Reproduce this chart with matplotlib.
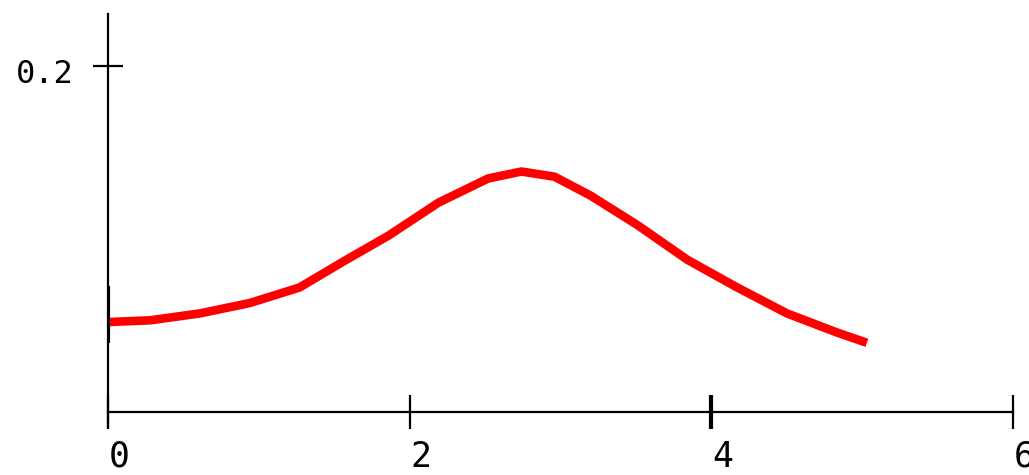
import matplotlib
matplotlib.use("Agg")
import matplotlib.pyplot as plt
from matplotlib.transforms import ScaledTranslation

# values
curve_x = [0, 0.28, 0.61, 0.94, 1.27, 1.56, 1.86, 2.19, 2.52, 2.74, 2.96, 3.2,
           3.51, 3.84, 4.17, 4.5, 4.83, 5.03]
curve_y = [0.052, 0.053, 0.057, 0.063, 0.072, 0.087, 0.102, 0.121, 0.135, 0.139,
           0.136, 0.125, 0.108, 0.088, 0.072, 0.057, 0.046, 0.040]
x_ticks = [0, 2, 4, 6]
x_tick_labels = ["0", "2", "4", "6"]
y_ticks = [0.2]
y_tick_labels = ["0.2"]
axis_mark = [0.040, 0.073]  # short thick stroke on the y axis at x=0

font = ["DejaVu Sans Mono", "DejaVu Sans"]

fig = plt.figure(figsize=(10.29, 4.75), dpi=100)
ax = fig.add_axes([108 / 1029, 48 / 475, 906 / 1029, 413 / 475])

ax.plot(curve_x, curve_y, color="#ff0000", lw=6.2,
        solid_capstyle="butt", solid_joinstyle="round")
ax.plot([0, 0], axis_mark, color="black", lw=3, solid_capstyle="butt")

ax.set_xlim(0, 6.005)
ax.set_ylim(-15 / 1730, 398 / 1730)

for side in ["top", "right"]:
    ax.spines[side].set_visible(False)
ax.spines["bottom"].set_position(("data", 0))
ax.spines["bottom"].set_bounds(0, 6)
ax.spines["left"].set_linewidth(1.6)
ax.spines["bottom"].set_linewidth(1.6)

ax.set_xticks(x_ticks)
ax.set_xticklabels(x_tick_labels, family=font, fontsize=25)
ax.set_yticks(y_ticks)
ax.set_yticklabels(y_tick_labels, family=font, fontsize=23)
ax.tick_params(axis="x", direction="inout", length=24, width=1.6, pad=8)
ax.tick_params(axis="y", direction="inout", length=22, width=1.6, pad=14)
ax.xaxis.get_major_ticks()[2].tick1line.set_markeredgewidth(3)

for lab in ax.get_xticklabels():
    lab.set_transform(lab.get_transform() + ScaledTranslation(0.11, 0, fig.dpi_scale_trans))
for lab in ax.get_yticklabels():
    lab.set_transform(lab.get_transform() + ScaledTranslation(0, -0.05, fig.dpi_scale_trans))

fig.savefig("out.png", dpi=100)
